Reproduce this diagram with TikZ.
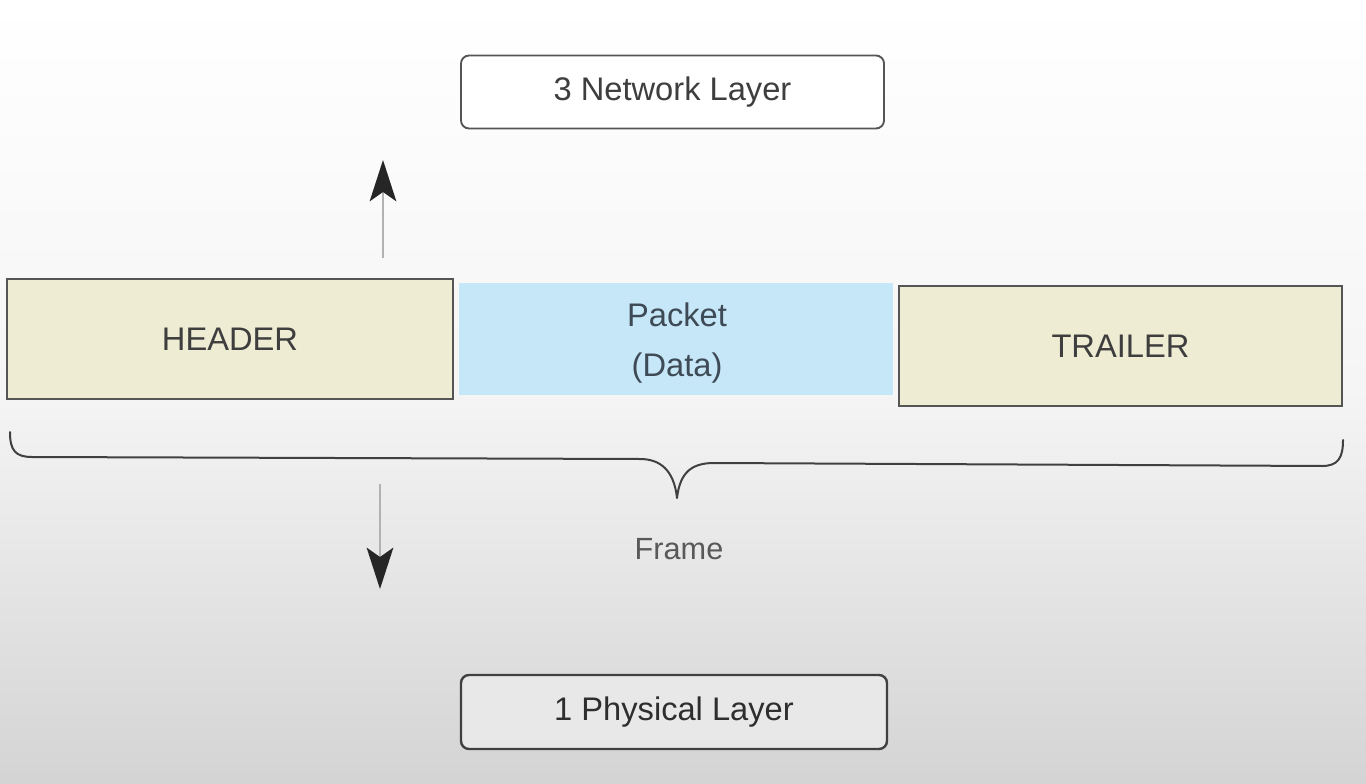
\documentclass[tikz,border=0pt]{standalone}
\usepackage{fontspec}
\setmainfont{Liberation Sans}
\usetikzlibrary{arrows.meta}
\definecolor{beige}{HTML}{EEEDD3}
\definecolor{pktblue}{HTML}{C6E7F7}
\definecolor{edge}{HTML}{555555}
\definecolor{txt}{HTML}{3E3E3E}
\definecolor{pkttxt}{HTML}{3E4A55}
\tikzset{
  px/.style={x=0.75pt,y=-0.75pt},
  layerbox/.style={draw=edge,line width=1.4pt,rounded corners=6pt,inner sep=0pt,outer sep=0pt,
     font=\fontsize{24.5}{28}\selectfont,text=txt},
  fieldbox/.style={draw=edge,line width=1.1pt,fill=beige,inner sep=0pt,outer sep=0pt,
     font=\fontsize{24.5}{28}\selectfont,text=txt},
  pktbox/.style={fill=pktblue,inner sep=0pt,outer sep=0pt},
  pktlabel/.style={align=center,inner sep=0pt,font=\fontsize{24.5}{38}\selectfont,text=pkttxt},
  flowarrow/.style={draw=gray!60,line width=1.4pt,
     -{Stealth[length=31pt,width=20pt,inset=7pt,color=black!85]}},
  bracepath/.style={draw=black!75,line width=1.5pt,line cap=round,line join=round}
}
\begin{document}
\begin{tikzpicture}[px]
\shade[top color=white,bottom color=black!17,middle color=black!4] (0,0) rectangle (1366,784);
\useasboundingbox (0,0) rectangle (1366,784);

\node[layerbox,fill=white,minimum width=317.25pt,minimum height=54.75pt] (net) at (672.5,92) {3 Network Layer};
\node[layerbox,draw=black!75,line width=1.8pt,fill=black!9,minimum width=319.5pt,minimum height=55.5pt,text=black!82] (phy) at (674,712) {1 Physical Layer};

\node[fieldbox,minimum width=334.5pt,minimum height=90pt] (hdr) at (230,339) {HEADER};
\node[pktbox,minimum width=325.5pt,minimum height=84pt] (pkt) at (676,339) {};
\node[pktlabel] (pkttext) at (677,343) {Packet\\(Data)};
\node[fieldbox,minimum width=332.25pt,minimum height=90pt] (trl) at (1120.5,346) {TRAILER};

\coordinate (upS) at (383,258);
\coordinate (upE) at (383,160);
\draw[flowarrow] (upS) -- (upE);
\coordinate (dnS) at (380,484);
\coordinate (dnE) at (380,589);
\draw[flowarrow] (dnS) -- (dnE);

\coordinate (brL) at (10,432);
\coordinate (brR) at (1343,440);
\coordinate (brT) at (677,498);
\draw[bracepath] (brL) .. controls (10,450) and (15,457) .. (32,457)
  -- (640,459) .. controls (660,459) and (674,470) .. (brT)
  .. controls (680,472) and (692,463) .. (714,463)
  -- (1322,466) .. controls (1338,466) and (1343,458) .. (brR);

\node[font=\fontsize{23}{27}\selectfont,text=black!65] (frame) at (679,549) {Frame};
\end{tikzpicture}
\end{document}
